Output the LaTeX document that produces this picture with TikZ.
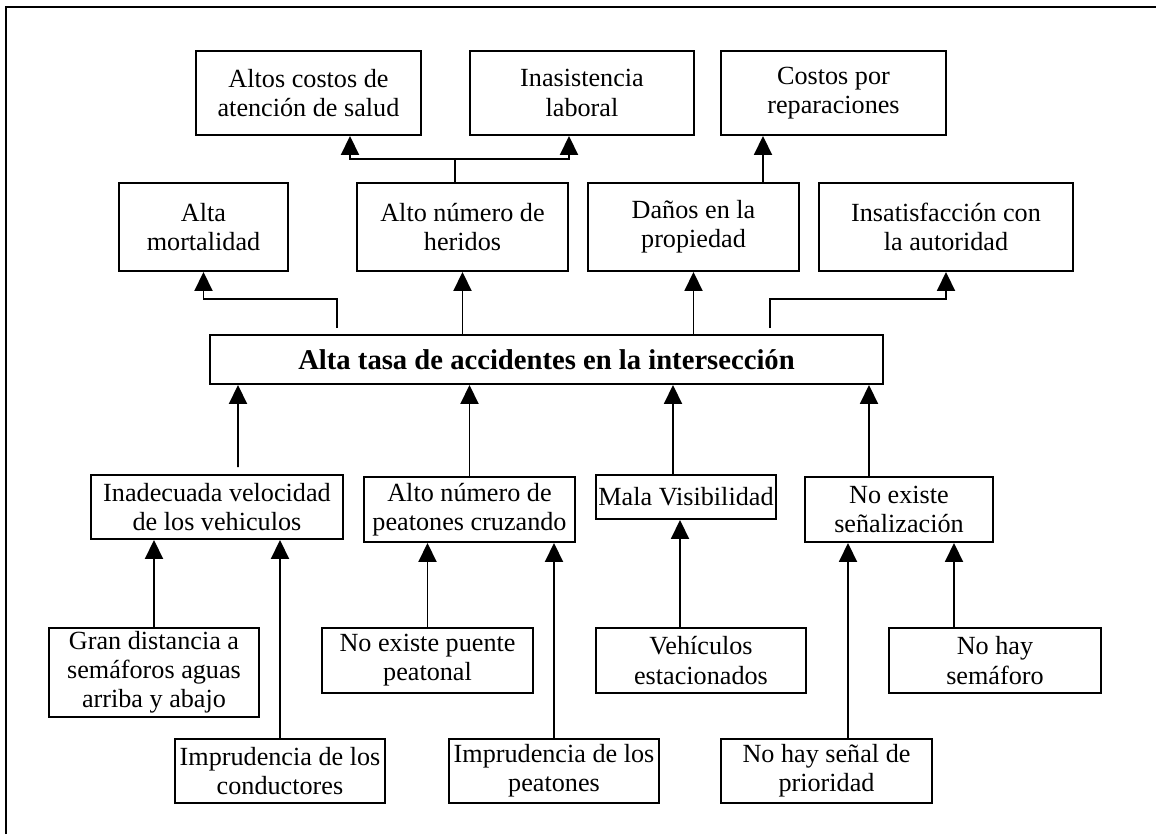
\documentclass[tikz,border=0pt]{standalone}
\usepackage{fontspec}
\setmainfont{Liberation Serif}
\usetikzlibrary{arrows.meta, positioning, calc}

\begin{document}
\begin{tikzpicture}[
    every node/.style={font=\fontsize{14.9}{16.6}\selectfont},
    box/.style={draw, line width=1.1pt, align=center, inner sep=0pt, minimum height=1.30cm},
    arr/.style={line width=1.1pt, -{Triangle[length=0.38cm, width=0.36cm]}}]
    \useasboundingbox (0,0) rectangle (23.12,-16.68);
    \draw[line width=1.6pt] (0.12,-16.68) |- (23.12,-0.14);

    % efectos
    \node[box, minimum width=4.50cm, minimum height=1.68cm] (salud) at (6.17,-1.86) {Altos costos de\\atención de salud};
    \node[box, minimum width=4.48cm, minimum height=1.68cm] (laboral) at (11.64,-1.86) {Inasistencia\\laboral};
    \node[box, minimum width=4.50cm, minimum height=1.68cm] (reparac) at (16.67,-1.86) {Costos por\\reparaciones};

    \node[box, minimum width=3.38cm, minimum height=1.76cm] (mortal) at (4.07,-4.54) {Alta\\mortalidad};
    \node[box, minimum width=4.22cm, minimum height=1.76cm] (heridos) at (9.25,-4.54) {Alto número de\\heridos};
    \node[box, minimum width=4.22cm, minimum height=1.76cm] (danos) at (13.87,-4.54) {Daños en la\\propiedad};
    \node[box, minimum width=5.08cm, minimum height=1.76cm] (insat) at (18.92,-4.54) {Insatisfacción con\\la autoridad};

    % problema central
    \node[box, minimum width=13.46cm, minimum height=0.98cm, font=\fontsize{16.3}{19}\selectfont\bfseries] (main) at (10.93,-7.19) {Alta tasa de accidentes en la intersección};

    % causas
    \node[box, minimum width=5.04cm, minimum height=1.28cm] (veloc) at (4.34,-10.14) {Inadecuada velocidad\\de los vehiculos};
    \node[box, minimum width=4.22cm] (peaton) at (9.39,-10.19) {Alto número de\\peatones cruzando};
    \node[box, minimum width=3.60cm, minimum height=0.88cm] (visib) at (13.72,-9.94) {Mala Visibilidad};
    \node[box, minimum width=3.76cm] (senal) at (17.98,-10.19) {No existe\\señalización};

    \node[box, minimum width=4.20cm, minimum height=1.78cm] (gran) at (3.08,-13.45) {Gran distancia a\\semáforos aguas\\arriba y abajo};
    \node[box, minimum width=4.22cm] (puente) at (8.55,-13.21) {No existe puente\\peatonal};
    \node[box, minimum width=4.20cm] (vehic) at (14.02,-13.21) {Vehículos\\estacionados};
    \node[box, minimum width=4.24cm] (semaf) at (19.90,-13.21) {No hay\\semáforo};

    \node[box, minimum width=4.20cm, minimum height=1.28cm] (condu) at (5.60,-15.42) {Imprudencia de los\\conductores};
    \node[box, minimum width=4.20cm, minimum height=1.28cm] (impeat) at (11.08,-15.42) {Imprudencia de los\\peatones};
    \node[box, minimum width=4.22cm, minimum height=1.28cm] (prior) at (16.53,-15.42) {No hay señal de\\prioridad};

    % flechas de efectos
    \coordinate (j1) at (9.10,-3.18);
    \draw[line width=1.1pt] (heridos.north -| j1) -- (j1);
    \draw[arr] (j1) -| ([xshift=0.83cm]salud.south);
    \draw[arr] (j1) -| ([xshift=-0.26cm]laboral.south);
    \draw[arr] ([xshift=1.39cm]danos.north) -- ([xshift=-1.41cm]reparac.south);

    \draw[arr] ([xshift=-4.19cm,yshift=0.12cm]main.north) -- ++(0,0.58) -| (mortal.south);
    \draw[arr] (main.north -| heridos.south) -- (heridos.south);
    \draw[arr] (main.north -| danos.south) -- (danos.south);
    \draw[arr] ([xshift=4.47cm,yshift=0.12cm]main.north) -- ++(0,0.58) -| (insat.south);

    % flechas de causas
    \draw[arr] ([xshift=0.42cm,yshift=0.14cm]veloc.north) -- ([xshift=-6.17cm]main.south);
    \draw[arr] (peaton.north) -- (peaton.north |- main.south);
    \draw[arr] ([xshift=-0.26cm]visib.north) -- ([xshift=-0.26cm]visib.north |- main.south);
    \draw[arr] ([xshift=-0.60cm]senal.north) -- ([xshift=-0.60cm]senal.north |- main.south);

    \draw[arr] (gran.north) -- (gran.north |- veloc.south);
    \draw[arr] (condu.north) -- (condu.north |- veloc.south);
    \draw[arr] (puente.north) -- (puente.north |- peaton.south);
    \draw[arr] (impeat.north) -- (impeat.north |- peaton.south);
    \draw[arr] ([xshift=-0.42cm]vehic.north) -- ([xshift=-0.42cm]vehic.north |- visib.south);
    \draw[arr] ([xshift=0.43cm]prior.north) -- ([xshift=0.43cm]prior.north |- senal.south);
    \draw[arr] ([xshift=-0.82cm]semaf.north) -- ([xshift=-0.82cm]semaf.north |- senal.south);
\end{tikzpicture}
\end{document}
